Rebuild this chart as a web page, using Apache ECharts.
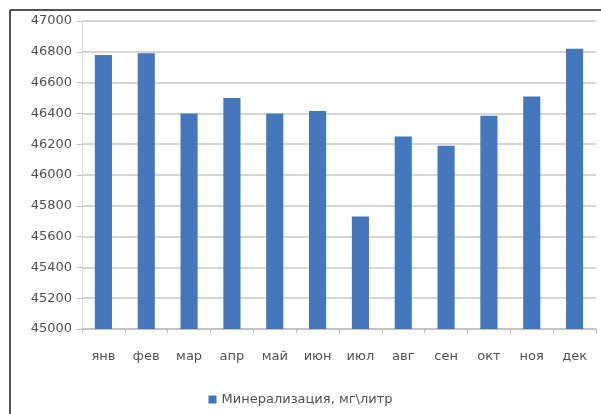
<!DOCTYPE html>
<html>
<head>
<meta charset="utf-8">
<script src="https://cdn.jsdelivr.net/npm/echarts@6/dist/echarts.min.js"></script>
<style>
  html, body { margin: 0; padding: 0; background: #fff; }
  #chart { width: 601px; height: 414px; }
</style>
</head>
<body>
<div id="chart"></div>
<script>
// Monthly mineralization, mg per litre
const months = ['янв', 'фев', 'мар', 'апр', 'май', 'июн', 'июл', 'авг', 'сен', 'окт', 'ноя', 'дек'];
const mineralization = [46780, 46790, 46400, 46500, 46400, 46415, 45730, 46250, 46190, 46385, 46510, 46820];
const seriesName = 'Минерализация, мг\\литр';

const textColor = '#505050';
const fontFamily = '"DejaVu Sans", sans-serif';

const chart = echarts.init(document.getElementById('chart'), null, { renderer: 'canvas' });
chart.setOption({
  backgroundColor: '#fff',
  animation: false,
  textStyle: { fontFamily: fontFamily },
  graphic: [
    // frame lines along the top and left edges
    { type: 'line', shape: { x1: 10, y1: 10, x2: 601, y2: 10 }, style: { stroke: '#1a1a1a', lineWidth: 1.5 } },
    { type: 'line', shape: { x1: 10, y1: 10, x2: 10, y2: 414 }, style: { stroke: '#1a1a1a', lineWidth: 1.5 } }
  ],
  grid: { left: 82, right: 5, top: 21, bottom: 85, containLabel: false },
  legend: {
    data: [seriesName],
    bottom: 3,
    left: 'center',
    itemWidth: 8,
    itemHeight: 8,
    itemGap: 4,
    icon: 'rect',
    textStyle: { color: textColor, fontSize: 13, fontFamily: fontFamily }
  },
  xAxis: {
    type: 'category',
    data: months,
    axisLine: { lineStyle: { color: '#bdbdbd', width: 1.5 } },
    axisTick: { show: true, length: 4, lineStyle: { color: '#bdbdbd' } },
    axisLabel: { color: textColor, fontSize: 13, margin: 21, fontFamily: fontFamily }
  },
  yAxis: {
    type: 'value',
    min: 45000,
    max: 47000,
    interval: 200,
    axisLine: { show: true, lineStyle: { color: '#d9d9d9', width: 1 } },
    axisTick: { show: true, length: 5, lineStyle: { color: '#bdbdbd' } },
    splitLine: { lineStyle: { color: '#c8c8c8', width: 1.5 } },
    axisLabel: {
      color: textColor, fontSize: 13, margin: 10, fontFamily: fontFamily,
      formatter: (v) => String(v)
    }
  },
  series: [{
    name: seriesName,
    type: 'bar',
    data: mineralization,
    barWidth: '40%',
    itemStyle: { color: '#4577bd' }
  }]
});
</script>
</body>
</html>
